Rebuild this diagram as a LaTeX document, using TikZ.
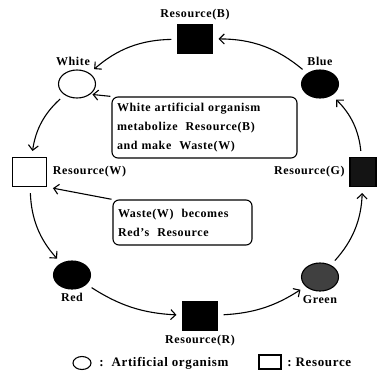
\documentclass[tikz,border=0pt]{standalone}
\usepackage{fontspec}
\setmainfont{Liberation Serif}[LetterSpace=5]
\usetikzlibrary{arrows.meta,positioning,shapes.geometric}

\begin{document}
\begin{tikzpicture}[x = 1pt, y = -1pt, line width = 1.1pt,
    every node/.style = {font = \bfseries\fontsize{12}{14}\selectfont},
    organism/.style = {draw = black, shape = ellipse, minimum width = 37pt, minimum height = 28pt, inner sep = 0pt},
    resource/.style = {draw = black, shape = rectangle, minimum width = 34pt, minimum height = 29pt, inner sep = 0pt},
    flow/.style = {-{Straight Barb[length = 5pt, width = 10pt]}, shorten >= 6pt, shorten <= 6pt},
    note/.style = {draw = black, rounded corners = 6pt, align = left, inner sep = 5pt, font = \bfseries\fontsize{12}{19}\selectfont},
    legend/.style = {font = \bfseries\fontsize{13}{15}\selectfont}]
    \useasboundingbox (0, 0) rectangle (379, 370);
    % cycle
    \node (resB) at (195, 39) [resource, fill = black, label = above:{Resource(B)}] {};
    \node (white) at (77, 84) [organism, fill = white, label = {[xshift = -4pt]above:White}] {};
    \node (blue) at (320, 84) [organism, fill = black, label = above:{Blue}] {};
    \node (resW) at (29.5, 172) [resource, fill = white, label = {[label distance = 2pt]right:Resource(W)}] {};
    \node (resG) at (363, 172) [resource, minimum width = 26pt, fill = black!92, label = {[label distance = 1pt]left:Resource(G)}] {};
    \node (red) at (72, 275) [organism, fill = black, label = below:{Red}] {};
    \node (resR) at (200, 316) [resource, fill = black, label = below:{Resource(R)}] {};
    \node (green) at (320, 277) [organism, fill = black!75, label = below:{Green}] {};
    % notes
    \node (box1) at (204.5, 127.5) [note, text width = 175pt, minimum height = 61pt] {White artificial organism\\metabolize\ \ Resource(B)\\and make\ \ Waste(W)};
    \node (box2) at (182.5, 222.5) [note, text width = 129pt, minimum height = 45pt] {Waste(W)\ \ becomes\\Red's\ \ Resource};
    % legend
    \node (legO) at (82, 363) [draw = black, shape = ellipse, minimum width = 18pt, minimum height = 13pt, inner sep = 0pt] {};
    \node (legOtext) [legend, right = 4pt of legO] {:\ \ Artificial organism};
    \node (legS) at (270, 362) [draw = black, minimum width = 22pt, minimum height = 14pt, inner sep = 0pt] {};
    \node (legStext) [legend, right = 2pt of legS] {:\ Resource};

    \draw[flow] (resB) to[bend right = 20] (white);
    \draw[flow] (white) to[bend right = 20] (resW);
    \draw[flow] (resW) to[bend right = 20] (red);
    \draw[flow] (red) to[bend right = 15] (resR);
    \draw[flow] (resR) to[bend right = 15] (green);
    \draw[flow] (green) to[bend right = 20] (resG);
    \draw[flow] (resG) to[bend right = 20] (blue);
    \draw[flow] (blue) to[bend right = 20] (resB);
    \draw[flow, shorten <= 1pt, shorten >= 2pt] (box1.north west) -- (white.south east);
    \draw[flow, shorten <= 1pt] (box2.north west) -- (resW.south east);
\end{tikzpicture}
\end{document}
